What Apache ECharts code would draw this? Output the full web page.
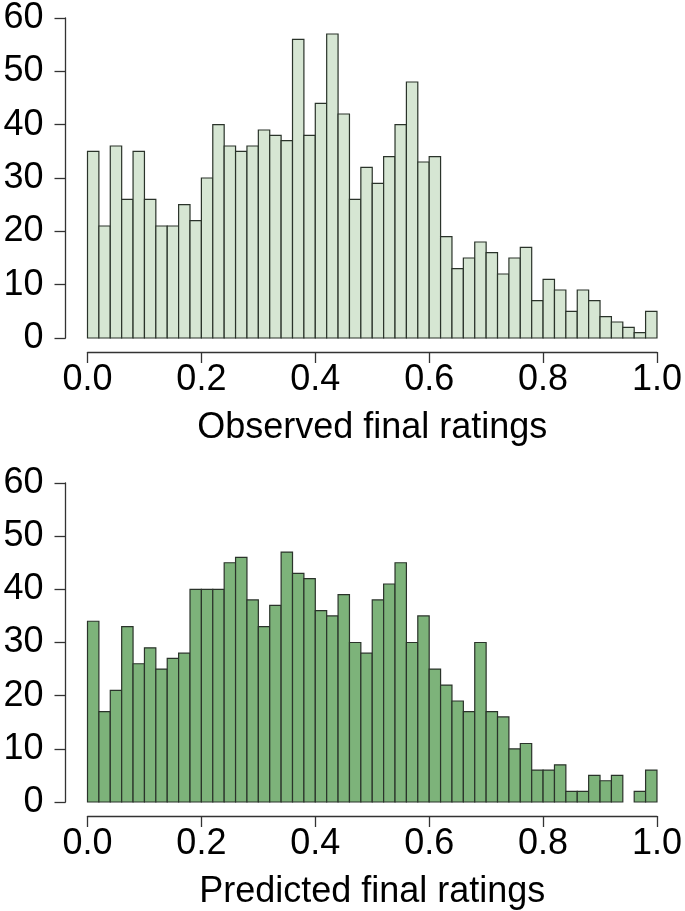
<!DOCTYPE html>
<html>
<head>
<meta charset="utf-8">
<script src="https://cdn.jsdelivr.net/npm/echarts@6/dist/echarts.min.js"></script>
<style>
  html, body { margin: 0; padding: 0; background: #fff; }
  #chart { width: 685px; height: 911px; }
</style>
</head>
<body>
<div id="chart"></div>
<script>
  // histogram counts, 50 bins of width 0.02 from 0 to 1
  var binWidth = 0.02
  var observedCounts = [35, 21, 36, 26, 35, 26, 21, 21, 25, 22, 30, 40, 36, 35, 36, 39, 38, 37, 56, 38,
    44, 57, 42, 26, 32, 29, 34, 40, 48, 33, 34, 19, 13, 15, 18, 16, 12, 15, 17, 7,
    11, 9, 5, 9, 7, 4, 3, 2, 1, 5]
  var predictedCounts = [34, 17, 21, 33, 26, 29, 25, 27, 28, 40, 40, 40, 45, 46, 38, 33, 37, 47, 43, 42,
    36, 35, 39, 30, 28, 38, 41, 45, 30, 35, 25, 22, 19, 17, 30, 17, 16, 10, 11, 6,
    6, 7, 2, 2, 5, 4, 5, 0, 2, 6]
  var xTicks = [0, 0.2, 0.4, 0.6, 0.8, 1.0]
  var yTicks = [0, 10, 20, 30, 40, 50, 60]
  var axisNames = ['Observed final ratings', 'Predicted final ratings']

  var fontFamily = '"Liberation Sans", Arial, sans-serif'
  var axisColor = '#333333'

  function toBins (counts) {
    return counts.map(function (c, i) {
      return [i * binWidth, (i + 1) * binWidth, c]
    })
  }

  function renderBar (fill) {
    return function (params, api) {
      var lo = api.coord([api.value(0), 0])
      var hi = api.coord([api.value(1), api.value(2)])
      if (api.value(2) <= 0) return
      return {
        type: 'rect',
        shape: { x: lo[0], y: hi[1], width: hi[0] - lo[0], height: lo[1] - hi[1] },
        style: { fill: fill, stroke: '#2a332a', lineWidth: 1.2 }
      }
    }
  }

  function xAxisOf (idx) {
    return {
      gridIndex: idx,
      type: 'value',
      min: xTicks[0],
      max: xTicks[xTicks.length - 1],
      interval: 0.2,
      offset: 14,
      name: axisNames[idx],
      nameLocation: 'middle',
      nameGap: 58,
      nameTextStyle: { color: '#000', fontSize: 36, fontFamily: fontFamily },
      axisLine: { show: true, onZero: false, lineStyle: { color: axisColor, width: 1.3 } },
      axisTick: { show: true, length: 11, lineStyle: { color: axisColor, width: 1.3 } },
      splitLine: { show: false },
      axisLabel: {
        color: '#000', fontSize: 36, fontFamily: fontFamily, margin: 10,
        formatter: function (v) { return v.toFixed(1) }
      }
    }
  }

  function yAxisOf (idx) {
    return {
      gridIndex: idx,
      type: 'value',
      min: yTicks[0],
      max: yTicks[yTicks.length - 1],
      interval: 10,
      offset: 22,
      axisLine: { show: true, onZero: false, lineStyle: { color: axisColor, width: 1.3 } },
      axisTick: { show: true, length: 11, lineStyle: { color: axisColor, width: 1.3 } },
      splitLine: { show: false },
      axisLabel: { color: '#000', fontSize: 36, fontFamily: fontFamily, margin: 22 }
    }
  }

  var chart = echarts.init(document.getElementById('chart'), null, { renderer: 'canvas' })
  var option = {
    backgroundColor: '#fff',
    animation: false,
    grid: [
      { left: 87.5, width: 570.5, top: 15, height: 323 },
      { left: 87.5, width: 570.5, top: 483, height: 322 }
    ],
    xAxis: [xAxisOf(0), xAxisOf(1)],
    yAxis: [yAxisOf(0), yAxisOf(1)],
    series: [
      {
        type: 'custom',
        xAxisIndex: 0,
        yAxisIndex: 0,
        renderItem: renderBar('#d6e6d3'),
        encode: { x: [0, 1], y: 2 },
        data: toBins(observedCounts)
      },
      {
        type: 'custom',
        xAxisIndex: 1,
        yAxisIndex: 1,
        renderItem: renderBar('#7db37a'),
        encode: { x: [0, 1], y: 2 },
        data: toBins(predictedCounts)
      }
    ]
  }
  chart.setOption(option)
</script>
</body>
</html>
